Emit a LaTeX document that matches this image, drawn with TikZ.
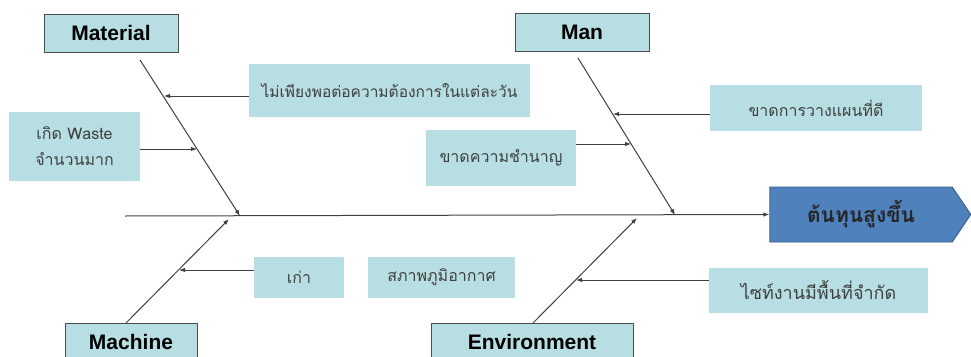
\documentclass[tikz,border=0pt]{standalone}
\usepackage{fontspec}
\setmainfont{Liberation Sans}
\newfontfamily\thaifont[Script=Thai]{Loma}
\usetikzlibrary{shapes.symbols,arrows.meta}
\definecolor{boxcyan}{RGB}{183,222,226}
\definecolor{headblue}{RGB}{79,129,189}
\definecolor{headedge}{RGB}{56,93,138}

\begin{document}
\begin{tikzpicture}[x=1pt,y=-1pt,
  catbox/.style={rectangle, draw=black!70, fill=boxcyan, line width=0.9pt, inner sep=0pt, minimum height=38pt, font=\fontsize{21}{24}\selectfont\bfseries},
  causebox/.style={rectangle, fill=boxcyan, inner sep=0pt, align=center, text=black!75, font=\thaifont\fontsize{16}{26}\selectfont},
  bone/.style={draw=black!75, line width=1pt, -{Latex[length=6pt,width=4.5pt]}}]
\useasboundingbox (0,0) rectangle (971,356);
\clip (0,0) rectangle (971,356);
\node[catbox, minimum width=134pt] (material) at (111,33) {Material};
\node[catbox, minimum width=134pt] (man) at (582,32) {Man};
\node[catbox, minimum width=132pt] (machine) at (131,342) {Machine};
\node[catbox, minimum width=202pt] (environment) at (532,342) {Environment};
\node[signal, signal to=east, signal pointer angle=112, draw=headedge, fill=headblue, line width=0.9pt, minimum width=201pt, minimum height=55pt, inner sep=0pt, font=\thaifont\fontsize{21}{24}\selectfont\bfseries, text=black!85] (head) at (861,214.5) {ต้นทุนสูงขึ้น};
\coordinate (spine) at (125,216);
\coordinate (matTop) at (140,60);
\coordinate (matEnd) at (240,216);
\coordinate (manTop) at (578,58);
\coordinate (manEnd) at (675,215);
\coordinate (macTop) at (126,323);
\coordinate (macEnd) at (229,219);
\coordinate (envTop) at (533,323);
\coordinate (envEnd) at (637,218);
\coordinate (c0) at (164,96);
\coordinate (c1) at (197,149);
\coordinate (c2) at (631,144);
\coordinate (c3) at (613,114);
\coordinate (c4) at (179,270);
\coordinate (c6) at (576,280);
\draw[bone] (spine) -- (head.west);
\draw[bone] (matTop) -- (matEnd);
\draw[bone] (manTop) -- (manEnd);
\draw[bone] (macTop) -- (macEnd);
\draw[bone] (envTop) -- (envEnd);
\node[causebox, minimum width=281pt, minimum height=53pt, font=\thaifont\fontsize{15.5}{18}\selectfont] (text0) at (389.5,90.5) {ไม่เพียงพอต่อความต้องการในแต่ละวัน};
\node[causebox, minimum width=131pt, minimum height=69pt] (text1) at (74.5,146.5) {เกิด Waste\\จำนวนมาก};
\node[causebox, minimum width=150pt, minimum height=56pt] (text2) at (501,158) {ขาดความชำนาญ};
\node[causebox, minimum width=212pt, minimum height=46pt] (text3) at (816,108) {ขาดการวางแผนที่ดี};
\node[causebox, minimum width=90pt, minimum height=41pt] (text4) at (299,277.5) {เก่า};
\node[causebox, minimum width=147pt, minimum height=41pt] (text5) at (441.5,277.5) {สภาพภูมิอากาศ};
\node[causebox, minimum width=219pt, minimum height=45pt, font=\thaifont\fontsize{18}{20}\selectfont] (text6) at (818.5,290.5) {ไซท์งานมีพื้นที่จำกัด};
\draw[bone] (text0.west |- c0) -- (c0);
\draw[bone] (text1.east |- c1) -- (c1);
\draw[bone] (text2.east |- c2) -- (c2);
\draw[bone] (text3.west |- c3) -- (c3);
\draw[bone] (text4.west |- c4) -- (c4);
\draw[bone] (text6.west |- c6) -- (c6);
\end{tikzpicture}
\end{document}
